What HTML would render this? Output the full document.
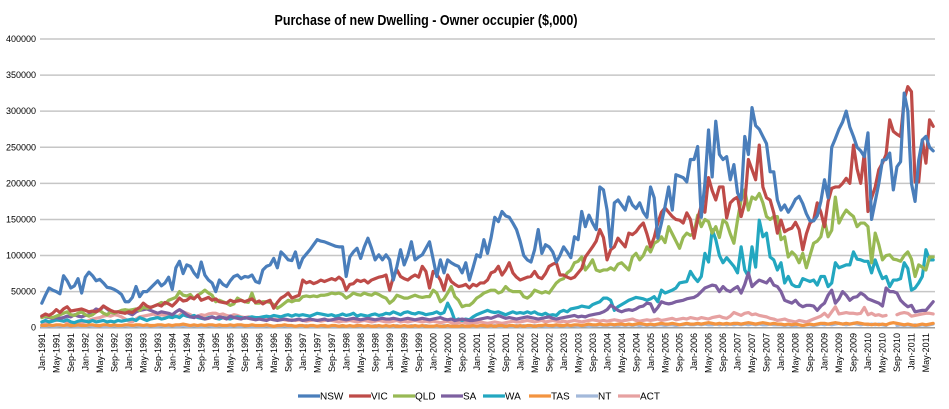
<!DOCTYPE html>
<html><head><meta charset="utf-8"><style>
html,body{margin:0;padding:0;background:#fff;}
svg{display:block;font-family:"Liberation Sans",Arial,sans-serif;}
</style></head><body>
<svg id="chart" width="949" height="409" viewBox="0 0 949 409">
<text x="426" y="25" text-anchor="middle" font-size="15" font-weight="bold" textLength="303" lengthAdjust="spacingAndGlyphs" fill="#000">Purchase of new Dwelling - Owner occupier ($,000)</text>
<g id="grid"></g><g id="yaxis"></g><g id="xaxis"></g><g id="series"></g><g id="legend"></g>
</svg>
<script>
const yTicks=[0,50000,100000,150000,200000,250000,300000,350000,400000];
const monthNames=["Jan","Feb","Mar","Apr","May","Jun","Jul","Aug","Sep","Oct","Nov","Dec"];
const seriesNames=["NSW","VIC","QLD","SA","WA","TAS","NT","ACT"];
const seriesColors=["#4a7ebb","#be4b48","#98b954","#7d60a0","#23a7c0","#f39440","#a3b9da","#e6a1a1"];
// values in $,000 (thousands), monthly from Jan 1991
const nsw=[34,45,55,52,50,47,72,65,55,58,68,48,
70,77,72,65,67,62,56,55,53,50,46,36,
36,42,57,43,50,50,55,60,65,58,62,70,
53,83,92,75,87,85,76,70,91,73,66,62,
50,66,60,57,65,71,73,68,71,70,73,64,
62,80,85,87,96,83,105,100,94,93,105,83,
96,102,108,115,122,120,119,117,115,113,112,112,
71,98,105,110,96,112,124,110,94,101,94,101,
94,66,85,108,87,100,119,94,98,101,110,119,
95,71,94,76,94,90,87,85,76,90,66,83,
101,98,122,103,125,153,147,161,155,153,145,136,
120,100,94,91,108,136,103,115,112,105,91,100,
112,105,97,126,122,161,140,156,145,136,195,191,
163,112,173,177,170,163,181,170,165,173,160,153,
195,180,124,145,168,195,163,212,210,208,202,233,
233,251,153,200,274,209,286,240,233,237,205,226,
187,177,265,240,305,280,275,265,255,216,216,177,
163,170,160,168,178,182,172,158,148,148,155,175,
205,180,250,262,275,285,300,278,265,250,245,237,
270,150,175,200,232,233,242,191,223,230,325,300,
200,175,232,260,265,250,245];
const vic=[16,19,17,20,25,21,26,29,23,24,25,26,
24,22,23,22,25,30,27,24,22,22,21,20,
22,21,25,28,34,30,28,30,32,30,35,33,
30,35,41,37,38,42,40,45,38,40,42,38,
40,36,35,34,38,36,37,38,36,38,40,35,
37,33,36,38,27,35,41,44,48,41,43,45,
66,62,64,61,63,66,64,66,68,66,70,66,
52,60,61,66,64,66,62,66,68,70,71,73,
52,70,80,71,68,66,70,73,70,85,78,55,
78,74,66,52,73,64,60,57,58,60,55,60,
58,62,62,66,76,78,85,73,80,90,76,70,
66,68,70,71,78,70,68,75,85,88,90,73,
73,70,68,70,76,82,98,105,112,120,136,125,
94,108,112,124,118,112,131,129,133,140,145,130,
112,125,145,160,166,160,154,150,149,145,159,150,
124,150,170,160,208,190,177,195,195,152,173,178,
181,154,173,233,219,205,253,195,180,177,159,131,
149,133,136,138,146,136,108,130,145,149,173,160,
140,175,193,195,195,200,207,200,253,220,200,242,
161,180,195,219,228,240,288,272,268,265,316,334,
327,202,202,260,228,288,279];
const qld=[14,16,15,14,16,18,20,22,18,17,20,22,
18,16,18,22,24,20,18,22,20,22,24,25,
24,25,26,24,28,27,28,30,32,35,33,38,
40,42,50,45,44,46,40,45,48,52,48,45,
36,38,36,34,31,33,41,38,36,35,48,34,
34,36,36,35,32,27,30,34,38,36,38,38,
43,44,43,44,43,45,45,46,48,47,48,46,
41,44,48,46,45,48,46,45,48,46,43,41,
34,38,45,43,41,41,43,45,43,42,43,43,
52,48,36,40,48,57,43,38,29,31,31,35,
41,44,48,50,52,52,48,50,57,52,50,50,
50,43,41,45,52,50,48,50,48,55,62,66,
68,76,80,90,92,98,80,86,94,80,78,80,
80,83,80,88,90,85,80,98,103,94,100,112,
105,117,120,126,118,140,130,120,110,125,131,128,
131,156,140,150,147,131,140,125,149,145,130,117,
149,177,191,163,181,178,186,173,154,150,154,154,
122,126,98,105,100,90,103,83,100,117,120,126,
149,126,135,181,145,155,163,158,154,140,145,145,
140,90,131,115,94,100,101,95,94,92,100,105,
95,71,87,84,80,98,98];
const sa=[16,15,14,13,14,13,14,16,15,18,16,15,
17,18,22,26,24,30,26,22,20,22,21,22,
20,18,22,24,25,26,24,22,20,22,21,20,
18,22,25,22,18,15,14,16,14,12,13,15,
13,15,14,12,16,14,13,12,14,13,12,11,
12,11,10,12,11,10,11,12,11,10,11,12,
10,11,12,11,10,11,12,10,11,12,13,12,
11,12,13,12,11,12,13,12,11,12,13,12,
12,13,12,11,12,13,12,11,12,13,12,11,
12,13,14,12,11,12,10,11,12,11,10,10,
11,12,13,14,13,15,17,15,13,14,13,12,
13,14,15,14,13,12,13,14,15,13,12,13,
14,15,16,17,15,16,15,17,18,19,20,22,
25,31,28,24,22,24,25,24,26,29,30,34,
33,22,28,36,34,33,34,36,37,38,40,41,
42,45,50,55,57,59,58,50,57,52,50,54,
57,48,60,76,57,62,66,64,62,68,59,57,
50,38,36,34,38,32,29,31,31,30,24,30,
34,45,52,34,40,50,45,38,42,43,48,45,
40,38,36,34,30,55,50,50,48,38,33,29,
31,22,23,24,24,30,36];
const wa=[8,10,8,9,11,10,9,11,8,7,9,10,
9,8,10,8,9,10,8,9,8,10,9,10,
11,12,10,14,12,10,12,13,14,12,13,15,
14,16,14,18,16,15,17,14,13,12,14,15,
13,12,14,13,12,14,15,14,13,14,15,14,
14,15,16,15,17,16,15,17,18,16,18,17,
18,17,16,18,20,19,18,17,18,16,17,19,
17,18,20,16,18,17,16,18,19,17,18,20,
19,22,20,18,21,22,20,19,21,20,18,19,
20,22,19,21,34,24,10,12,10,12,11,15,
18,20,22,24,22,21,22,20,18,20,22,20,
21,20,22,20,22,19,18,20,17,18,17,22,
24,22,26,27,28,30,29,28,32,34,36,41,
41,38,24,29,32,35,38,40,42,41,40,38,
40,43,36,52,48,50,52,55,62,63,64,78,
70,64,71,103,91,136,122,100,90,97,91,85,
76,112,80,71,112,84,149,126,131,98,94,80,
90,62,71,60,57,57,68,66,64,66,59,71,
71,57,62,90,83,85,87,87,105,95,94,92,
92,76,94,80,68,71,57,66,66,68,90,82,
52,55,62,71,108,94,94];
const tas=[3,3,4,3,4,4,3,4,3,3,4,3,
3,4,4,3,3,4,4,3,4,3,3,4,
4,3,4,4,3,4,3,3,4,4,3,4,
3,4,4,5,4,3,4,3,4,3,4,4,
3,4,3,3,4,3,4,4,3,3,4,3,
3,3,4,3,2,3,3,4,3,3,2,3,
3,2,3,3,2,3,3,2,3,3,2,3,
2,3,2,3,3,2,3,2,2,3,2,3,
2,3,2,2,3,2,2,3,2,3,2,2,
2,3,2,2,3,2,2,2,3,2,2,3,
2,3,3,2,3,2,3,3,2,3,3,2,
3,2,3,3,2,3,3,4,3,3,4,3,
3,4,3,4,4,3,4,5,4,4,5,4,
4,5,4,5,5,4,5,4,5,6,5,4,
5,4,5,6,5,5,6,5,4,5,6,5,
5,6,5,6,7,6,5,6,5,6,5,6,
6,5,6,7,6,5,6,7,6,5,6,5,
5,4,5,4,5,4,3,4,5,4,5,6,
6,5,6,7,6,5,6,5,6,7,6,5,
5,4,5,4,5,4,6,7,6,5,4,5,
4,3,4,5,4,5,6];
const nt=[2,2,3,2,2,3,2,2,3,2,2,2,
2,3,2,2,3,2,2,2,3,2,2,3,
2,2,3,2,2,2,3,2,2,3,2,2,
3,2,2,3,2,2,3,2,2,2,3,2,
2,3,2,2,2,3,2,2,3,2,2,2,
2,2,3,2,2,2,2,3,2,2,2,2,
2,3,2,2,2,2,3,2,2,2,2,3,
2,2,2,3,2,2,2,2,3,2,2,2,
2,2,3,2,2,2,3,2,2,2,3,2,
2,2,2,3,2,2,2,2,3,2,2,2,
2,2,3,2,2,3,2,2,3,2,2,3,
2,3,2,2,3,2,3,2,2,3,2,3,
3,2,3,3,2,3,3,2,3,3,4,3,
3,4,3,3,4,3,4,3,4,3,4,3,
4,3,4,4,3,4,4,3,4,4,5,4,
4,5,4,5,4,4,5,4,5,4,5,4,
5,4,5,4,5,4,5,4,4,5,4,4,
4,3,4,3,3,4,3,4,4,3,4,5,
4,5,4,5,6,5,4,5,6,5,4,5,
4,5,4,5,4,3,null,null,3,4,3,4,
3,4,3,4,3,4,5];
const act=[4,6,8,10,10,11,9,7,6,5,6,7,
8,10,12,13,14,16,17,16,18,17,15,12,
9,8,12,15,16,17,18,19,16,18,17,16,
18,15,17,22,20,18,15,16,18,17,19,20,
20,18,19,17,16,18,17,15,14,15,14,13,
14,13,12,13,12,11,12,11,10,11,10,11,
10,9,10,11,10,9,10,11,10,9,8,9,
9,10,9,8,9,10,9,8,9,10,9,8,
8,9,10,8,9,8,9,10,9,8,9,8,
9,8,7,8,9,7,6,7,8,7,6,7,
7,8,7,6,7,8,7,6,7,8,9,8,
8,9,10,9,8,9,10,8,9,10,9,8,
9,8,9,10,9,8,9,10,11,10,9,10,
9,10,11,10,9,10,11,12,10,9,10,11,
10,11,12,10,11,12,13,11,12,13,12,14,
13,12,14,13,12,14,15,16,14,13,16,21,
19,17,20,21,18,19,17,16,15,13,12,10,
11,12,10,9,8,10,9,8,10,12,14,16,
20,15,22,29,19,20,21,20,20,19,20,28,
18,20,17,18,16,17,null,null,18,20,21,20,
16,17,18,19,20,20,19];
const allSeries=[nsw,vic,qld,sa,wa,tas,nt,act];

const NS="http://www.w3.org/2000/svg";
const PL=40,PR=935,PT=39,PB=327.7,YMAX=400000;
const N=nsw.length;
const slot=(PR-PL)/N;
function xPos(i){return PL+slot*(i+0.5);}
function yPos(v){return PB-(v/YMAX)*(PB-PT);}
function mk(tag,attrs,parent){const e=document.createElementNS(NS,tag);for(const k in attrs)e.setAttribute(k,attrs[k]);parent.appendChild(e);return e;}

const grid=document.getElementById('grid'),yax=document.getElementById('yaxis'),xax=document.getElementById('xaxis');
yTicks.forEach(t=>{
  const y=yPos(t);
  const l=mk('line',{x1:PL,x2:PR,y1:y,y2:y,stroke:t===0?'#a0a0a0':'#c6c6c6','stroke-width':1.5},grid);
  
  
  const tx=mk('text',{x:36,y:y+3,'text-anchor':'end','font-size':9,fill:'#000'},yax);
  tx.textContent=String(t);
  
  
});
for(let i=0;i<N;i+=4){
  const yr=1991+Math.floor(i/12),m=i%12;
  const x=xPos(i)+3.2;
  const tx=mk('text',{x:x,y:333,'text-anchor':'end','font-size':9,fill:'#000',transform:`rotate(-90 ${x} 333)`},xax);
  tx.textContent=monthNames[m]+'-'+yr;
  
  
}
const sg=document.getElementById('series');
for(let s=allSeries.length-1;s>=0;s--){
  const arr=allSeries[s];let d='',pen=false;
  arr.forEach((v,i)=>{
    if(v===null){pen=false;return;}
    d+=(pen?'L':'M')+xPos(i).toFixed(2)+' '+yPos(v*1000).toFixed(2);pen=true;
  });
  const p=mk('path',{d:d,fill:'none',stroke:seriesColors[s],'stroke-width':3.2,'stroke-linejoin':'round','stroke-linecap':'round'},sg);
  
  
}
const lg=document.getElementById('legend');
const legX=[298,349,393,441,483,529,576,618];
seriesNames.forEach((n,i)=>{
  const g=mk('g',{},lg);
  
  
  mk('line',{x1:legX[i],x2:legX[i]+22,y1:396,y2:396,stroke:seriesColors[i],'stroke-width':3.2},g);
  const t=mk('text',{x:legX[i]+22,y:399.5,'font-size':10,fill:'#000'},g);
  t.textContent=n;
});
</script>
</body></html>
